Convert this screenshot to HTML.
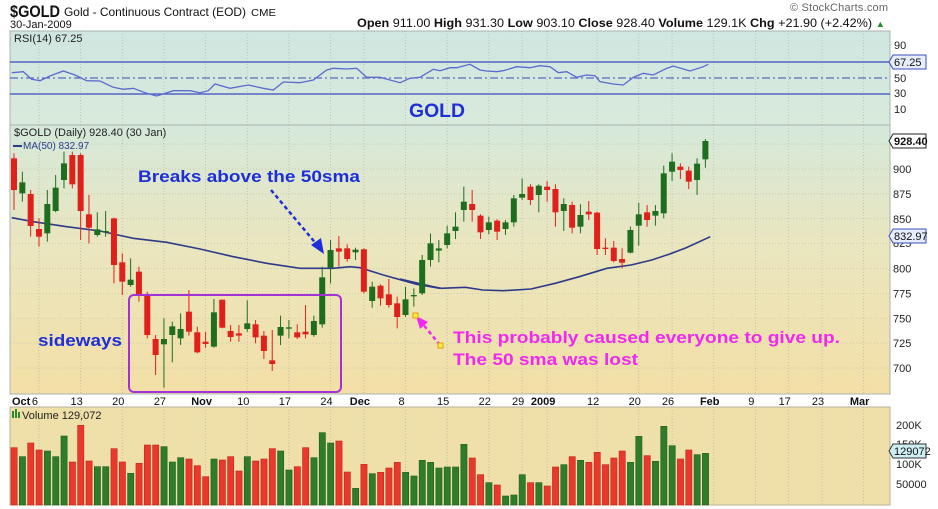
<!DOCTYPE html>
<html><head><meta charset="utf-8">
<style>
html,body{margin:0;padding:0;background:#fff;width:938px;height:509px;overflow:hidden}
svg{display:block}
text{font-family:"Liberation Sans",sans-serif}
</style></head><body>
<svg id="s" width="938" height="509" xmlns="http://www.w3.org/2000/svg">
<defs>
<linearGradient id="gp" x1="0" y1="0" x2="0" y2="1">
<stop offset="0" stop-color="#d5e8da"/><stop offset="0.45" stop-color="#eae6bf"/><stop offset="1" stop-color="#f3dfa6"/>
</linearGradient>
<linearGradient id="gr" x1="0" y1="0" x2="0" y2="1">
<stop offset="0" stop-color="#cfe6e0"/><stop offset="1" stop-color="#d9eadb"/>
</linearGradient>
</defs>
<rect x="0" y="0" width="938" height="509" fill="#fff"/>
<rect x="10" y="31" width="880" height="94" fill="url(#gr)" stroke="#a8b4b0"/>
<rect x="10" y="125" width="880" height="269" fill="url(#gp)" stroke="#a8b4b0"/>
<rect x="10" y="407" width="880" height="98" fill="#efdfa9" stroke="#b8b098"/>
<g id="grid"></g>
<g id="plot"></g>
<text x="10" y="17" font-size="17" font-weight="bold" fill="#111" textLength="50" lengthAdjust="spacingAndGlyphs">$GOLD</text>
<text x="64" y="16" font-size="12" fill="#111" textLength="182" lengthAdjust="spacingAndGlyphs">Gold - Continuous Contract (EOD)</text>
<text x="251" y="16" font-size="10" fill="#111" textLength="25" lengthAdjust="spacingAndGlyphs">CME</text>
<text x="10" y="28" font-size="11" fill="#111">30-Jan-2009</text>
<text x="790" y="11" font-size="11" fill="#666" textLength="98">© StockCharts.com</text>
<text x="357" y="27" font-size="12" fill="#111" textLength="528" lengthAdjust="spacingAndGlyphs"><tspan font-weight="bold">Open</tspan> 911.00 <tspan font-weight="bold">High</tspan> 931.30 <tspan font-weight="bold">Low</tspan> 903.10 <tspan font-weight="bold">Close</tspan> 928.40 <tspan font-weight="bold">Volume</tspan> 129.1K <tspan font-weight="bold">Chg</tspan> +21.90 (+2.42%) <tspan fill="#2a8a2a" font-size="9">▲</tspan></text>
<text x="14" y="42" font-size="11" fill="#222" font-family="DejaVu Sans Mono">RSI(14) 67.25</text>
<text x="14" y="136" font-size="11" fill="#222" font-family="DejaVu Sans Mono">$GOLD (Daily) 928.40 (30 Jan)</text>
<line x1="13" y1="146" x2="22" y2="146" stroke="#2b3b8c" stroke-width="2"/>
<text x="23" y="149" font-size="10" fill="#2b3b8c">MA(50) 832.97</text>
<text x="22" y="419" font-size="11" fill="#222">Volume 129,072</text>
<rect x="12" y="411" width="2" height="7" fill="#2a8a2a"/><rect x="15" y="409" width="2" height="9" fill="#2a8a2a"/><rect x="18" y="412" width="2" height="6" fill="#2a8a2a"/>
<text x="409" y="117" font-size="19" font-weight="bold" fill="#1f2fd8" textLength="56" lengthAdjust="spacingAndGlyphs">GOLD</text>
<text x="138" y="182" font-size="17" font-weight="bold" fill="#1f2fd8" textLength="222" lengthAdjust="spacingAndGlyphs">Breaks above the 50sma</text>
<text x="38" y="346" font-size="17" font-weight="bold" fill="#1f2fd8" textLength="84" lengthAdjust="spacingAndGlyphs">sideways</text>
<text x="453" y="343" font-size="17" font-weight="bold" fill="#f028f0" textLength="387" lengthAdjust="spacingAndGlyphs">This probably caused everyone to give up.</text>
<text x="453" y="365" font-size="17" font-weight="bold" fill="#f028f0" textLength="185" lengthAdjust="spacingAndGlyphs">The 50 sma was lost</text>
<rect x="129" y="295" width="212" height="97" rx="5" fill="none" stroke="#a232d8" stroke-width="2"/>
<line x1="271" y1="190" x2="318" y2="246" stroke="#1f2fd8" stroke-width="2.5" stroke-dasharray="4,3"/>
<polygon points="324,254 311,245 321,238" fill="#1f2fd8"/>
<line x1="440" y1="345" x2="422" y2="323" stroke="#f028f0" stroke-width="2.5" stroke-dasharray="4,3"/>
<polygon points="416,316 428,322 420,329" fill="#f028f0"/>
<rect x="413" y="313" width="5" height="5" fill="#ffee44" stroke="#e0a000"/>
<rect x="438" y="343" width="5" height="5" fill="#ffee44" stroke="#e0a000"/>
<g id="axis"></g>
</svg>
<script>
var NS="http://www.w3.org/2000/svg";
function el(p,t,a,txt){var e=document.createElementNS(NS,t);for(var k in a)e.setAttribute(k,a[k]);if(txt!==undefined)e.textContent=txt;document.getElementById(p).appendChild(e);return e;}
function X(i){return 14+i*8.33;}
var wk=[[0,"Oct",1],[3,"6"],[8,"13"],[13,"20"],[18,"27"],[23,"Nov",1],[28,"10"],[33,"17"],[38,"24"],[42,"Dec",1],[47,"8"],[52,"15"],[57,"22"],[61,"29"],[64,"2009",1],[70,"12"],[75,"20"],[79,"26"],[84,"Feb",1],[89,"9"],[93,"17"],[97,"23"],[102,"Mar",1]];
wk.forEach(function(w){var x=X(w[0]);
 if(w[0]>0){[[31,125],[125,394],[407,505]].forEach(function(r){el("grid","line",{x1:x,y1:r[0],x2:x,y2:r[1],stroke:"#b8b8a8","stroke-dasharray":"1,2","stroke-width":"0.8"});});}
 var tx=w[0]==0?12:x-4;
 el("axis","text",{x:tx,y:405,"font-size":"11","font-weight":w[2]?"bold":"normal",fill:"#111","text-anchor":w[0]==0?"start":"middle"},w[1]);
});
function PY(p){return 169+(900-p)*0.995;}
[925,900,875,850,825,800,775,750,725,700].forEach(function(p){var y=PY(p);el("grid","line",{x1:10,y1:y,x2:890,y2:y,stroke:"#c4c4b0","stroke-dasharray":"1,2","stroke-width":"0.8"});
 if(p<925&&p!=825)el("axis","text",{x:893,y:y+4,"font-size":"11",fill:"#222"},p);});
el("axis","text",{x:893,y:247,"font-size":"11",fill:"#222"},"825");
[[90,45],[50,78],[10,109]].forEach(function(r){el("axis","text",{x:894,y:r[1]+4,"font-size":"11",fill:"#222"},r[0]);});
el("axis","text",{x:894,y:97,"font-size":"11",fill:"#222"},"30");
[["200K",425],["150K",444],["100K",464],["50000",484]].forEach(function(r){el("axis","text",{x:896,y:r[1]+4,"font-size":"11",fill:"#222"},r[0]);});
el("plot","line",{x1:10,y1:62,x2:890,y2:62,stroke:"#3a4cc0","stroke-width":"1.3"});
el("plot","line",{x1:10,y1:94,x2:890,y2:94,stroke:"#3a4cc0","stroke-width":"1.3"});
el("plot","line",{x1:10,y1:78,x2:890,y2:78,stroke:"#3a4cc0","stroke-width":"1","stroke-dasharray":"8,3,2,3"});
var r1=[[35,218],[70,215],[95,238],[120,242],[150,228],[190,213],[225,225],[260,242],[300,243],[340,262],[370,268],[400,265],[440,280],[470,288],[520,272],[570,272],[600,278],[625,272],[645,252],[690,265],[745,255],[790,265],[820,270],[850,246],[900,248],[940,240],[980,210],[1000,205],[1040,207],[1070,205],[1100,232],[1140,232],[1200,248],[1230,235],[1260,232],[1300,208],[1320,212],[1350,203],[1370,203],[1410,193]];
var r2=[[30,210],[50,213],[80,215],[100,212],[140,200],[180,203],[210,197],[240,200],[265,218],[290,215],[320,232],[350,225],[375,227],[390,245],[430,252],[460,255],[490,232],[520,220],[550,225],[590,205],[610,198],[660,213],[700,200],[715,193]];
var pts=r1.map(function(p){return (p[0]/3).toFixed(1)+","+(p[1]/3).toFixed(1);}).concat(r2.map(function(p){return (470+p[0]/3).toFixed(1)+","+(p[1]/3).toFixed(1);}));
el("plot","polyline",{points:pts.join(" "),fill:"none",stroke:"#5a6ad0","stroke-width":"1.3"});
var m1=[[35,278],[100,290],[200,305],[300,318],[400,340],[500,352],[600,372],[700,395],[800,415],[900,430],[1000,430],[1050,425],[1080,428],[1150,450],[1250,478],[1320,490]];
var m2=[[0,462],[60,478],[120,490],[190,487],[240,495],[300,497],[380,492],[450,475],[520,455],[600,430],[670,420],[730,405],[780,388],[830,368],[900,335]];
var mp=m1.map(function(p){return (p[0]/3).toFixed(1)+","+(125+p[1]/3).toFixed(1);}).concat(m2.map(function(p){return (400+p[0]/2.9).toFixed(1)+","+(125+p[1]/3).toFixed(1);}));
el("plot","polyline",{points:mp.join(" "),fill:"none",stroke:"#2e3a8a","stroke-width":"1.6"});
var C=[["r",100,195,85,255],["g",172,205,140,230],["r",207,303,195,335],["r",312,335,280,365],["g",237,325,195,350],["g",188,258,150,262],["g",115,165,80,190],["r",90,178,80,190],["r",90,258,85,345],["r",268,308,210,355],["g",313,330,262,335],["g",318,322,258,335],["r",280,420,278,475],["r",412,470,385,510],["g",464,480,400,485],["r",440,512,425,530],["r",512,630,500,640],["r",642,690,630,750],["g",642,658,580,788],["g",604,630,590,712],["g",612,640,565,660],["r",560,620,495,632],["r",622,682,605,685],["r",652,655,620,668],["g",562,665,522,668],["r",524,608,524,610],["r",618,636,600,650],["r",627,630,600,650],["g",595,612,526,620],["r",598,637,585,655],["r",632,678,618,702],["r",706,717,615,738],["g",606,632,572,660],["g",607,611,585,640],["r",622,637,598,642],["r",620,628,540,640],["g",588,630,572,635],["g",457,598,425,608],["g",375,428,345,475],["r",370,380,333,425],["r",370,402,358,410],["g",374,382,368,405],["r",373,500,370,505],["g",485,528,470,548],["r",482,520,478,542],["r",508,540,462,548],["r",535,576,515,610],["g",523,570,485,575],["g",510,514,490,545],["g",405,505,390,510],["g",355,405,325,425],["g",372,375,345,412],["g",325,360,302,370],["g",305,318,262,342],["g",230,255,185,290],
["r",237,255,195,290],["r",272,322,268,342],["g",292,315,275,328],["r",287,320,283,345],["g",292,312,285,330],["g",220,292,210,305],["g",207,218,160,225],["r",185,225,178,240],["g",182,210,178,262],["r",185,195,168,230],["r",192,262,178,305],["g",237,258,220,318],["r",240,308,230,325],["g",270,305,238,325],["r",260,268,228,285],["r",263,372,260,390],["r",368,372,340,390],["r",368,408,348,412],["r",402,413,370,430],["g",315,383,305,385],["g",268,302,233,362],["r",262,285,240,305],["g",258,272,240,302],["g",145,265,122,280],["g",110,140,85,168],["r",125,135,115,162],["r",137,170,125,192],["g",116,165,100,210],["g",48,103,42,128]];
C.forEach(function(c,i){var x=X(i),col=c[0]=="r"?"#e0201a":"#1f6e1f";
 el("plot","line",{x1:x,y1:125+c[3]/3,x2:x,y2:125+c[4]/3,stroke:col,"stroke-width":"1"});
 var t=125+c[1]/3,b=125+c[2]/3;if(b-t<1.2){t-=0.6;b+=0.6;}
 el("plot","rect",{x:x-3,y:t,width:6,height:b-t,fill:col});});
var V=[["r",143],["g",170],["r",129],["r",150],["g",153],["g",170],["g",108],["r",186],["r",76],["r",183],["g",200],["g",200],["r",146],["r",186],["g",220],["r",190],["r",135],["r",135],["g",140],["g",186],["g",173],["r",177],["r",197],["r",230],["g",177],["r",180],["r",170],["r",213],["g",170],["r",183],["r",177],["r",146],["g",153],["g",210],["r",200],["r",143],["g",173],["g",98],["g",129],["r",123],["r",216],["g",265],
["r",193],["g",221],["r",217],["r",204],["r",187],["g",217],["g",228],["g",181],["g",187],["g",204],["g",201],["g",201],["g",133],["r",174],["r",224],["g",248],["r",255],["g",288],["g",285],["g",224],["r",248],["g",248],["r",258],["r",201],["g",194],["r",170],["g",181],["r",187],["r",157],["r",194],["r",174],["r",153],["g",187],["g",109],["r",167],["g",184],["g",79],["g",137],["r",177],["r",150],["g",164],["g",160]];
V.forEach(function(v,i){var x=X(i),t=400+v[1]/3;
 el("plot","rect",{x:x-3,y:t,width:6.2,height:505-t,fill:v[0]=="r"?"#e8392c":"#2f7d2a",stroke:v[0]=="r"?"#c42418":"#1f5e1c","stroke-width":"0.6"});});
function tag(y,txt,fill,stroke,bold){el("axis","polygon",{points:"889,"+y+" 893,"+(y-7)+" 926,"+(y-7)+" 926,"+(y+7)+" 893,"+(y+7),fill:fill,stroke:stroke});
 el("axis","text",{x:894,y:y+4,"font-size":"11","font-weight":bold?"bold":"normal",fill:"#111"},txt);}
tag(62,"67.25","#e6eefc","#3a4cc0");
tag(141,"928.40","#fff","#222",1);
tag(236,"832.97","#e6eefc","#3a4cc0");
tag(451,"129072","#cfeef4","#333");
</script>
</body></html>
